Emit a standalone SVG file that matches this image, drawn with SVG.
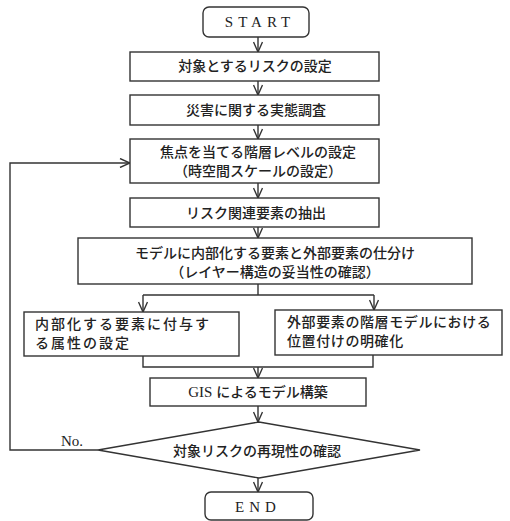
<svg xmlns="http://www.w3.org/2000/svg" width="510" height="521" viewBox="0 0 510 521">
<style>
  .box { fill: #fff; stroke: #333; stroke-width: 1.4; }
  .ln { fill: none; stroke: #333; stroke-width: 1.4; }
  .jp { font-family: "Noto Sans CJK JP", "Noto Sans", sans-serif; font-size: 14px; fill: #222; font-weight: 500; }
  .mid { text-anchor: middle; }
  .rom { font-family: "Liberation Serif", serif; font-size: 15px; fill: #222; }
</style>
<defs>
  <marker id="arr" viewBox="0 0 12 10" refX="11" refY="5" markerWidth="12" markerHeight="10" markerUnits="userSpaceOnUse" orient="auto">
    <path d="M1,0.5 L11,5 L1,9.5" fill="none" stroke="#333" stroke-width="1.4"/>
  </marker>
</defs>
<rect width="510" height="521" fill="#fff"/>
<g id="connectors">
  <line class="ln" x1="258" y1="37" x2="258" y2="52" marker-end="url(#arr)"/>
  <line class="ln" x1="258" y1="81" x2="258" y2="95" marker-end="url(#arr)"/>
  <line class="ln" x1="258" y1="125" x2="258" y2="139" marker-end="url(#arr)"/>
  <line class="ln" x1="258" y1="183" x2="258" y2="198" marker-end="url(#arr)"/>
  <line class="ln" x1="258" y1="227" x2="258" y2="238" marker-end="url(#arr)"/>
  <polyline class="ln" points="258,284 258,295"/>
  <polyline class="ln" points="143,295 374,295"/>
  <line class="ln" x1="143" y1="295" x2="143" y2="312" marker-end="url(#arr)"/>
  <line class="ln" x1="374" y1="295" x2="374" y2="310" marker-end="url(#arr)"/>
  <polyline class="ln" points="143,356 143,367 373,367 373,355"/>
  <line class="ln" x1="258" y1="367" x2="258" y2="378" marker-end="url(#arr)"/>
  <line class="ln" x1="258" y1="406" x2="258" y2="422" marker-end="url(#arr)"/>
  <line class="ln" x1="258" y1="478" x2="258" y2="492" marker-end="url(#arr)"/>
  <polyline class="ln" points="98,450 10,450 10,163 130,163" marker-end="url(#arr)"/>
  <text class="rom" x="61" y="446" font-size="17">No.</text>
</g>
<g id="start">
  <rect class="box" x="203" y="7" width="106" height="30" rx="6"/>
  <text class="rom mid" x="260" y="27" letter-spacing="5">START</text>
</g>
<g id="n1">
  <rect class="box" x="130" y="52" width="249" height="29"/>
  <text class="jp mid" x="255" y="71">対象とするリスクの設定</text>
</g>
<g id="n2">
  <rect class="box" x="130" y="95" width="249" height="30"/>
  <text class="jp mid" x="256" y="115">災害に関する実態調査</text>
</g>
<g id="n3">
  <rect class="box" x="130" y="139" width="249" height="44"/>
  <text class="jp mid" x="258" y="157">焦点を当てる階層レベルの設定</text>
  <text class="jp mid" x="258" y="176">（時空間スケールの設定）</text>
</g>
<g id="n4">
  <rect class="box" x="130" y="198" width="249" height="29"/>
  <text class="jp mid" x="256" y="218">リスク関連要素の抽出</text>
</g>
<g id="n5">
  <rect class="box" x="78" y="238" width="394" height="46"/>
  <text class="jp mid" x="275" y="258">モデルに内部化する要素と外部要素の仕分け</text>
  <text class="jp mid" x="275" y="277">（レイヤー構造の妥当性の確認）</text>
</g>
<g id="n6">
  <rect class="box" x="24" y="312" width="215" height="44"/>
  <text class="jp" x="35" y="329" font-size="15" letter-spacing="2">内部化する要素に付与す</text>
  <text class="jp" x="35" y="348" font-size="15" letter-spacing="2">る属性の設定</text>
</g>
<g id="n7">
  <rect class="box" x="275" y="310" width="227" height="45"/>
  <text class="jp" x="287" y="327" font-size="15" letter-spacing="0.6">外部要素の階層モデルにおける</text>
  <text class="jp" x="287" y="346" font-size="15" letter-spacing="0.6">位置付けの明確化</text>
</g>
<g id="n8">
  <rect class="box" x="150" y="378" width="216" height="28"/>
  <text class="jp mid" x="258" y="397"><tspan font-family="Liberation Serif, serif" font-size="15">GIS </tspan>によるモデル構築</text>
</g>
<g id="decision">
  <polygon class="box" points="98,450 259,422 420,450 259,478"/>
  <text class="jp mid" x="257" y="456">対象リスクの再現性の確認</text>
</g>
<g id="end">
  <rect class="box" x="205" y="492" width="108" height="28" rx="6"/>
  <text class="rom mid" x="258" y="512" letter-spacing="5">END</text>
</g>
</svg>
